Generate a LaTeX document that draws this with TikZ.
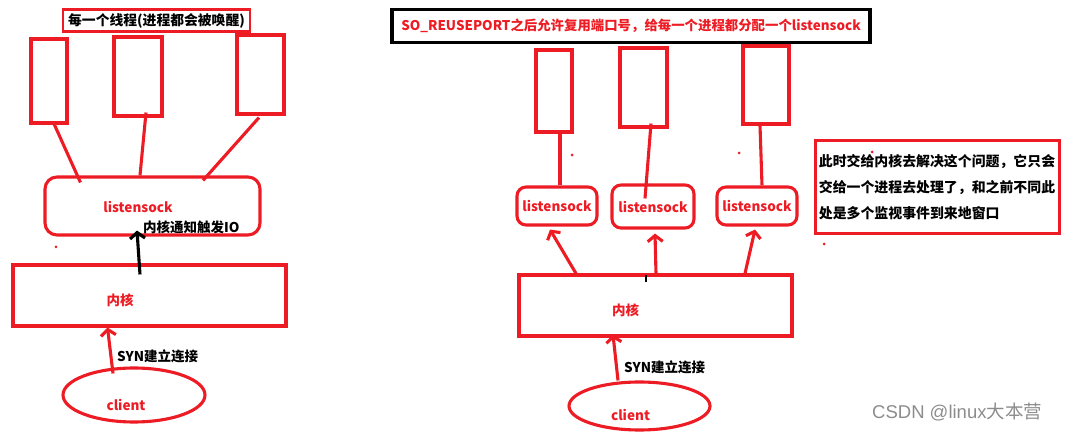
\documentclass[tikz,border=0pt]{standalone}
\usepackage{fontspec}
\newfontfamily\cjk{Noto Sans CJK SC}
\newfontfamily\wmfont{Liberation Sans}
\usetikzlibrary{positioning,arrows.meta,calc,shapes.geometric}
\definecolor{pred}{HTML}{ED1C24}

\begin{document}
\begin{tikzpicture}[
    x=1pt, y=-1pt,
    font=\cjk\bfseries\fontsize{13.5}{16}\selectfont,
    redln/.style={draw=pred, line width=3.1pt},
    thrbox/.style={redln, rectangle, inner sep=0pt},
    sockbox/.style={redln, rectangle, rounded corners=9pt, inner sep=0pt, text=pred},
    kernbox/.style={redln, rectangle, inner sep=0pt},
    cli/.style={redln, ellipse, inner sep=0pt},
    redtxt/.style={text=pred, inner sep=0pt},
    up/.style={-{Straight Barb[length=6pt,width=15pt]}, line width=3.1pt},
    dot/.style={circle, fill=pred, inner sep=0pt, minimum size=3pt},
  ]
  \useasboundingbox (0,0) rectangle (1076,435);

  % left: threads all woken up
  \node[draw=pred, line width=2.8pt, inner sep=0pt, minimum width=187pt, minimum height=22pt,
        font=\cjk\bfseries\fontsize{13.8}{16}\selectfont]
    (titleL) at (156.5,20.5) {每一个线程(进程都会被唤醒)};
  \foreach \nm/\x/\y/\w/\h in {t1/49/81/36/84, t2/138/76.5/48/79, t3/260.5/74.5/47/79,
                               r1/554/91/36/82, r2/643.5/87.5/47/79, r3/766/85/46/78} {
    \node[thrbox, minimum width=\w pt, minimum height=\h pt] (\nm) at (\x,\y) {};
  }
  \node[sockbox, minimum width=215pt, minimum height=58pt, rounded corners=12pt] (lsL) at (152.5,206) {};
  \node[redtxt] (lsLt) at ($(lsL.center)+(-14.5,1)$) {listensock};
  \node[kernbox, minimum width=273pt, minimum height=61pt] (knL) at (149.5,295.5) {};
  \node[redtxt] (knLt) at ($(knL.center)+(-29.5,5)$) {内核};
  \node[cli, minimum width=142pt, minimum height=54pt] (clL) at (134,395) {};
  \node[redtxt] (clLt) at ($(clL.center)+(-8,10)$) {client};

  \draw[redln] ($(t1.south)+(4,-3)$) -- ($(lsL.north west)+(37,7)$);
  \draw[redln] ($(t2.south)+(8,-5)$) -- ($(lsL.north)+(-12.5,0)$);
  \draw[redln] ($(t3.south)+(-1.5,2)$) -- ($(lsL.north)+(50.5,5)$);
  \draw[up, black] ($(knL.north)+(-9.5,11)$) -- ($(lsL.south)+(-15.5,-6)$);
  \node[anchor=west, inner sep=0pt] (ioL) at (143,227) {内核通知触发IO};
  \draw[up, pred] ($(clL.north)+(-21,7)$) -- ($(knL.south)+(-42,0)$);
  \node[anchor=west, inner sep=0pt] (synL) at (117,356) {SYN建立连接};
  \node[dot] (dL) at (56,247) {};

  % right: SO_REUSEPORT, one listensock per process
  \node[draw=black, line width=3.4pt, text=pred, inner sep=0pt, minimum width=478pt, minimum height=33pt,
        font=\cjk\bfseries\fontsize{13.4}{16}\selectfont]
    (titleR) at (631,26) {SO\_REUSEPORT之后允许复用端口号，给每一个进程都分配一个listensock};
  \foreach \nm/\x/\y/\w/\h in {ls1/557/206/80/38, ls2/653/206.5/82/43, ls3/757/206/80/38} {
    \node[sockbox, minimum width=\w pt, minimum height=\h pt] (\nm) at (\x,\y) {listensock};
  }
  \node[kernbox, minimum width=273pt, minimum height=61pt] (knR) at (655.5,305.5) {};
  \node[redtxt] (knRt) at ($(knR.center)+(-30,5)$) {内核};
  \node[cli, minimum width=141pt, minimum height=48pt] (clR) at (639.5,406) {};
  \node[redtxt] (clRt) at ($(clR.center)+(-9,9)$) {client};

  \draw[redln] ($(ls1.north)+(3,0)$) -- ($(r1.south)+(6,0)$);
  \draw[redln] ($(ls2.north)+(-8,15)$) -- ($(r2.south)+(7.5,-5)$);
  \draw[redln] ($(ls3.north)+(5,0)$) -- ($(r3.south)+(-6,0)$);
  \draw[up, pred] ($(knR.north)+(-79.5,0)$) -- ($(ls1.south)+(-7,3)$);
  \draw[up, pred] ($(knR.north)+(0.5,0)$) -- ($(ls2.south)+(2,4)$);
  \draw[up, pred] ($(knR.north)+(89.5,0)$) -- ($(ls3.south)+(-2,3)$);
  \draw[black, line width=2.6pt] ($(knR.north)+(-9.5,2)$) -- ($(knR.north)+(-9.5,9)$);
  \draw[up, pred] ($(clR.north)+(-21.5,0)$) -- ($(knR.south)+(-42.5,-3)$);
  \node[anchor=west, inner sep=0pt] (synR) at (624,367) {SYN建立连接};

  \node[draw=pred, line width=3pt, minimum width=244pt, minimum height=93pt, inner sep=0pt,
        align=left, font=\cjk\bfseries\fontsize{13.9}{26}\selectfont]
    (note) at (937,187.5) {此时交给内核去解决这个问题，它只会\\交给一个进程去处理了，和之前不同此\\处是多个监视事件到来地窗口};
  \foreach \nm/\x/\y in {d1/572/155, d2/739/153, d3/824/244, d4/872/152} {
    \node[dot] (\nm) at (\x,\y) {};
  }

  \node[text=black!45, font=\wmfont\fontsize{18.5}{20}\selectfont, anchor=west, inner sep=0pt]
    (mark) at (872,412) {CSDN @linux{\cjk 大本营}};
\end{tikzpicture}
\end{document}
